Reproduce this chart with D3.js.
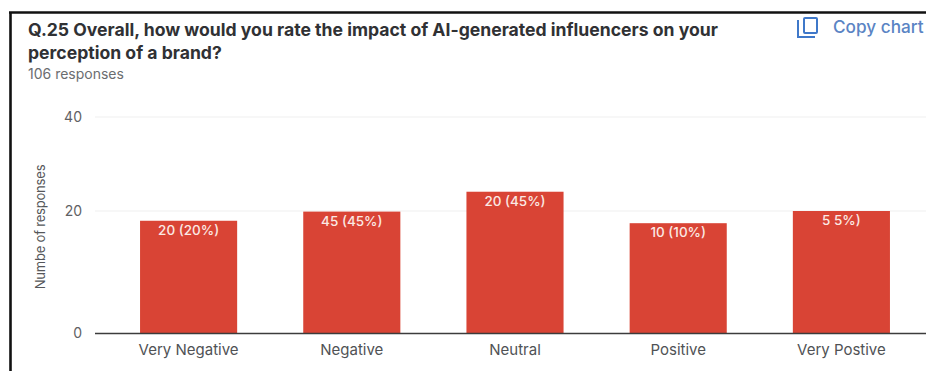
<!DOCTYPE html>
<html>
<head>
<meta charset="utf-8">
<script src="https://cdn.jsdelivr.net/npm/d3@7/dist/d3.min.js"></script>
<style>
  html, body { margin: 0; padding: 0; background: #fff; }
  svg { display: block; font-family: Inter, Roboto, Arial, sans-serif; }
</style>
</head>
<body>
<svg id="chart" width="926" height="371"></svg>
<script>
// Survey question and response count
const titleLines = [
  "Q.25 Overall, how would you rate the impact of AI-generated influencers on your",
  "perception of a brand?"
];
const subtitle = "106 responses";
const yAxisTitle = "Numbe of responses";
const copyLabel = "Copy chart";

// Response categories, bar heights on the y axis, and the printed bar captions
const categories = ["Very Negative", "Negative", "Neutral", "Positive", "Very Postive"];
const barHeights = [18.4, 19.9, 24.1, 18, 20];
const barCaptions = ["20 (20%)", "45 (45%)", "20 (45%)", "10 (10%)", "5 5%)"];
const yTicks = [0, 20, 40];

const svg = d3.select("#chart");
const labelFont = "Inter, Roboto, Arial, sans-serif";

// The y axis is spaced unevenly: 0-20 spans more pixels than 20-40
const y = d3.scaleLinear().domain(yTicks).range([333, 211, 117]);
const x = d3.scaleBand().domain(categories).range([107, 923])
  .paddingInner(0.405).paddingOuter(0.2025);

// Card frame along the top and left edges
svg.append("line").attr("x1", 9).attr("x2", 926).attr("y1", 12.5).attr("y2", 12.5)
  .attr("stroke", "#111").attr("stroke-width", 2.4);
svg.append("line").attr("x1", 10.5).attr("x2", 10.5).attr("y1", 12).attr("y2", 371)
  .attr("stroke", "#111").attr("stroke-width", 2.6);

// Heading block
svg.append("g").selectAll("text").data(titleLines).join("text")
  .attr("x", 28).attr("y", (d, i) => 36 + i * 23)
  .attr("font-size", 17.6).attr("font-weight", 700).attr("fill", "#303134")
  .text(d => d);
svg.append("text").attr("x", 28).attr("y", 79)
  .attr("font-size", 14).attr("fill", "#6b6d70").text(subtitle);

// Copy icon and its label
const icon = svg.append("g").attr("fill", "none").attr("stroke", "#3f78c9").attr("stroke-width", 2);
icon.append("rect").attr("x", 804).attr("y", 18).attr("width", 13).attr("height", 15).attr("rx", 1);
icon.append("path").attr("d", d3.line()([[798, 20], [798, 37], [815, 37]]));
svg.append("text").attr("x", 833).attr("y", 33)
  .attr("font-size", 17.2).attr("font-weight", 500)
  .attr("fill", "#5a84c4").text(copyLabel);

// Horizontal gridlines and y tick labels
svg.append("g").selectAll("line").data(yTicks.filter(d => d > 0)).join("line")
  .attr("x1", 95).attr("x2", 926)
  .attr("y1", d => y(d)).attr("y2", d => y(d))
  .attr("stroke", "#efefef").attr("stroke-width", 1);

const yAxis = d3.axisLeft(y).tickValues(yTicks).tickSize(0).tickPadding(0);
const yG = svg.append("g").attr("transform", "translate(82,0)").call(yAxis);
yG.select(".domain").remove();
yG.selectAll("text").attr("font-size", 14).attr("font-family", labelFont).attr("fill", "#5f6164");

svg.append("text")
  .attr("transform", "translate(45,227) rotate(-90)")
  .attr("text-anchor", "middle").attr("font-size", 13).attr("letter-spacing", -0.2)
  .attr("fill", "#55575a").text(yAxisTitle);

// Bars
svg.append("g").selectAll("rect").data(categories).join("rect")
  .attr("x", d => x(d)).attr("width", x.bandwidth())
  .attr("y", (d, i) => y(barHeights[i]))
  .attr("height", (d, i) => y(0) - y(barHeights[i]))
  .attr("fill", "#d94435");

// Captions inside the bars
svg.append("g").selectAll("text").data(categories).join("text")
  .attr("x", d => x(d) + x.bandwidth() / 2)
  .attr("y", (d, i) => y(barHeights[i]) + 14)
  .attr("text-anchor", "middle").attr("font-size", 13.5).attr("font-weight", 500)
  .attr("fill", "#fbe9e4").text((d, i) => barCaptions[i]);

// Baseline and category labels
const xAxis = d3.axisBottom(x).tickSize(0).tickPadding(11);
const xG = svg.append("g").attr("transform", "translate(0,333)").call(xAxis);
xG.select(".domain").remove();
xG.selectAll("text").attr("font-size", 15).attr("font-family", labelFont).attr("fill", "#505255");
svg.append("line").attr("x1", 95).attr("x2", 926).attr("y1", 333.5).attr("y2", 333.5)
  .attr("stroke", "#3c3c3c").attr("stroke-width", 1.3);
</script>
</body>
</html>
